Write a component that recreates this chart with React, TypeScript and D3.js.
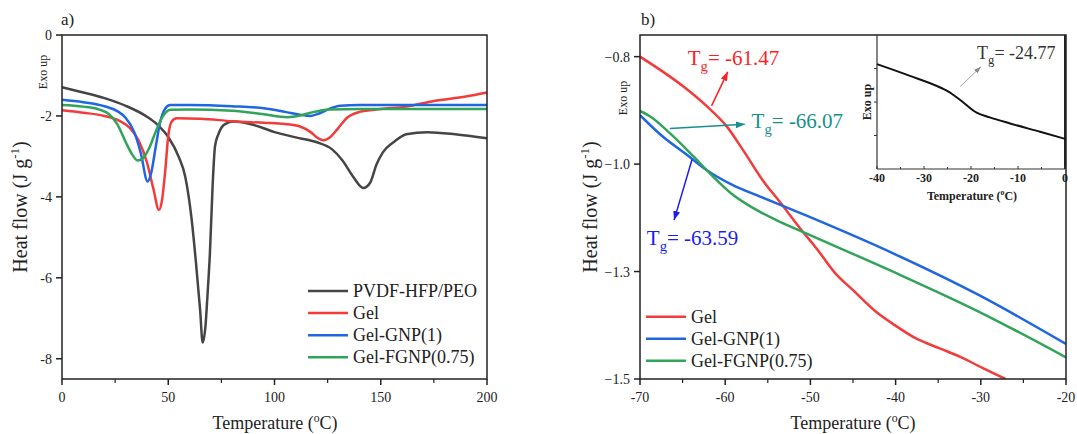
import * as React from 'react';
import * as d3 from 'd3';

// panel a: temperature (°C) vs heat flow (J/g)
const pvdfA: [number, number][] = [
  [0, -1.29], [10, -1.42], [20, -1.56], [30, -1.75], [40, -2.02], [45, -2.22], [50, -2.52],
  [55, -3.02], [58, -3.5], [61, -4.55], [63, -5.6], [65, -6.8], [66.2, -7.6], [67.5, -7.2],
  [68.5, -6.4], [69.6, -5.4], [70.9, -3.7], [72, -2.75], [73.6, -2.45], [76.7, -2.2], [81, -2.14],
  [90, -2.22], [100, -2.4], [110, -2.53], [120, -2.65], [127, -2.82], [132, -3.1], [137, -3.5],
  [141.8, -3.78], [145, -3.65], [148, -3.2], [151, -2.9], [156, -2.65], [162, -2.45], [172, -2.4],
  [185, -2.45], [200, -2.55],
];
const gelA: [number, number][] = [
  [0, -1.86], [10, -1.92], [20, -2.0], [27, -2.12], [32, -2.3], [36, -2.6], [40, -3.15], [43, -3.8],
  [45.6, -4.32], [47, -4.1], [48.5, -3.4], [50, -2.5], [51.5, -2.15], [54, -2.06], [65, -2.07],
  [80, -2.13], [95, -2.17], [105, -2.2], [112, -2.26], [117, -2.4], [120.5, -2.55], [123, -2.6],
  [126, -2.53], [130, -2.3], [134, -2.05], [140, -1.9], [150, -1.83], [162, -1.77], [175, -1.63],
  [190, -1.52], [200, -1.42],
];
const gnpA: [number, number][] = [
  [0, -1.6], [10, -1.66], [20, -1.76], [26, -1.88], [30, -2.05], [34, -2.4], [37, -2.9], [40.3, -3.62],
  [42, -3.4], [44, -2.8], [46, -2.2], [48.5, -1.82], [51, -1.73], [60, -1.73], [80, -1.76], [95, -1.81],
  [105, -1.9], [112, -1.97], [117, -2.0], [121, -1.94], [126, -1.82], [131, -1.75], [140, -1.73],
  [200, -1.73],
];
const fgnpA: [number, number][] = [
  [0, -1.73], [10, -1.77], [18, -1.85], [22, -1.95], [26, -2.2], [30, -2.65], [33, -2.95], [35.5, -3.1],
  [38, -3.05], [41, -2.8], [44, -2.4], [47, -2.05], [51, -1.85], [60, -1.84], [80, -1.87], [95, -1.96],
  [106, -2.03], [112, -1.99], [117, -1.92], [126, -1.84], [140, -1.83], [200, -1.83],
];

// panel b: glass transition region
const gelB: [number, number][] = [
  [-70, -0.8], [-64.9, -0.865], [-62.2, -0.907], [-59.8, -0.952], [-57.9, -1.003], [-55.5, -1.071],
  [-53.6, -1.115], [-51.2, -1.173], [-49.3, -1.216], [-47.1, -1.27], [-45, -1.307], [-42.3, -1.354],
  [-40.1, -1.383], [-37.6, -1.412], [-34.9, -1.433], [-32.4, -1.452], [-29.7, -1.477], [-27.1, -1.5],
];
const gnpB: [number, number][] = [
  [-70, -0.927], [-67.3, -0.974], [-64.5, -1.013], [-62.2, -1.046], [-59.1, -1.079], [-55.9, -1.104],
  [-50.1, -1.148], [-40.3, -1.227], [-30.2, -1.318], [-20, -1.424],
];
const fgnpB: [number, number][] = [
  [-70, -0.918], [-68.8, -0.93], [-66.5, -0.966], [-63.7, -1.017], [-61.4, -1.061], [-59.1, -1.1],
  [-56.7, -1.129], [-54, -1.155], [-50.1, -1.187], [-40.3, -1.267], [-30.2, -1.354], [-20, -1.453],
];

// inset: PVDF-HFP/PEO (arbitrary units)
const pvdfInset: [number, number][] = [
  [-40, 3.13], [-33, 2.78], [-26.2, 2.41], [-24.8, 2.31], [-22.3, 2.06], [-18.8, 1.68], [-16, 1.54],
  [-11.7, 1.36], [-5.3, 1.11], [0, 0.9],
];

const xTicksA = [0, 50, 100, 150, 200];
const yTicksA = [0, -2, -4, -6, -8];
const xTicksB = [-70, -60, -50, -40, -30, -20];
const yTicksB = [-0.8, -0.8 - 0.7 / 3, -0.8 - 1.4 / 3, -1.5];
const xTicksInset = [-40, -30, -20, -10, 0];

const legendA = ['PVDF-HFP/PEO', 'Gel', 'Gel-GNP(1)', 'Gel-FGNP(0.75)'];
const legendB = ['Gel', 'Gel-GNP(1)', 'Gel-FGNP(0.75)'];

const C = { dark: '#454545', red: '#f23b3b', blue: '#1f66e0', green: '#31a45a' };
const FONT = "'Liberation Serif', 'Times New Roman', serif";

const xA = d3.scaleLinear().domain([0, 200]).range([62, 487]);
const yA = d3.scaleLinear().domain([-8.5, 0]).range([379, 35]);
const xB = d3.scaleLinear().domain([-70, -20]).range([640, 1066]);
const yB = d3.scaleLinear().domain([-1.5, -0.753]).range([379, 35]);
const xI = d3.scaleLinear().domain([-40, 0]).range([877, 1065]);
const yI = d3.scaleLinear().domain([0, 4]).range([169, 35]);

const Frame = ({ x, y, xTicks, yTicks, fmt, minor }) => {
  const [x0, x1] = x.range();
  const [y0, y1] = y.range();
  const step = xTicks[1] - xTicks[0];
  return (
    <g fontFamily={FONT} fill='#222'>
      <rect x={x0} y={y1} width={x1 - x0} height={y0 - y1} fill='none' stroke='#222' strokeWidth={1.5} />
      {xTicks.map((t) => (
        <g key={'x' + t}>
          <line x1={x(t)} x2={x(t)} y1={y0} y2={y0 + 6} stroke='#222' strokeWidth={1.5} />
          <text x={x(t)} y={y0 + 23} textAnchor='middle' fontSize={14}>{t}</text>
        </g>
      ))}
      {minor &&
        xTicks.slice(0, -1).map((t) => (
          <line key={'m' + t} x1={x(t + step / 2)} x2={x(t + step / 2)} y1={y0} y2={y0 + 4} stroke='#222' strokeWidth={1.2} />
        ))}
      {yTicks.map((t) => (
        <g key={'y' + t}>
          <line x1={x0 - 6} x2={x0} y1={y(t)} y2={y(t)} stroke='#222' strokeWidth={1.5} />
          <text x={x0 - 10} y={y(t) + 5} textAnchor='end' fontSize={14}>{fmt(t)}</text>
        </g>
      ))}
    </g>
  );
};

const Tg = ({ x, y, value, color, size }) => (
  <text x={x} y={y} fill={color} fontFamily={FONT} fontSize={size}>
    <tspan>T</tspan>
    <tspan fontSize={size * 0.7} dy={size * 0.28}>g</tspan>
    <tspan dy={-size * 0.28}>= {value}</tspan>
  </text>
);

const Arrow = ({ from, to, color, width, id }) => (
  <line x1={from[0]} y1={from[1]} x2={to[0]} y2={to[1]} stroke={color} strokeWidth={width} markerEnd={`url(#${id})`} />
);

const Legend = ({ labels, colors, x, y, gap }) => (
  <g fontFamily={FONT} fontSize={18} fill='#222'>
    {labels.map((l, i) => (
      <g key={l}>
        <line x1={x} x2={x + 40} y1={y + i * gap} y2={y + i * gap} stroke={colors[i]} strokeWidth={2.5} />
        <text x={x + 45} y={y + i * gap + 6}>{l}</text>
      </g>
    ))}
  </g>
);

const YTitle = ({ x, y }) => (
  <text transform={`translate(${x},${y}) rotate(-90)`} textAnchor='middle' fontFamily={FONT} fontSize={20} fill='#222'>
    Heat flow (J g<tspan fontSize={13} dy={-8}>-1</tspan><tspan dy={8}>)</tspan>
  </text>
);

const XTitle = ({ x, y, size, bold }) => (
  <text x={x} y={y} textAnchor='middle' fontFamily={FONT} fontSize={size} fontWeight={bold ? 'bold' : 'normal'} fill='#222'>
    Temperature (<tspan fontSize={size * 0.65} dy={-size * 0.4}>o</tspan><tspan dy={size * 0.4}>C)</tspan>
  </text>
);

export default function App() {
  const lineA = d3.line<[number, number]>().x((d) => xA(d[0])).y((d) => yA(d[1])).curve(d3.curveMonotoneX);
  const lineB = d3.line<[number, number]>().x((d) => xB(d[0])).y((d) => yB(d[1])).curve(d3.curveMonotoneX);
  const lineI = d3.line<[number, number]>().x((d) => xI(d[0])).y((d) => yI(d[1])).curve(d3.curveMonotoneX);
  const f1 = d3.format('.1f');
  const seriesA = [
    [pvdfA, C.dark],
    [gelA, C.red],
    [gnpA, C.blue],
    [fgnpA, C.green],
  ];
  const seriesB = [
    [gelB, C.red],
    [gnpB, C.blue],
    [fgnpB, C.green],
  ];
  const markers = [
    ['arR', '#ff1f1f', 9, 7],
    ['arT', '#16908c', 9, 7],
    ['arB', '#1c1cf0', 9, 7],
    ['arG', '#888', 7, 5],
  ];

  return (
    <svg width={1077} height={434} style={{ position: 'absolute', left: 0, top: 0, background: '#fff' }}>
      <defs>
        {markers.map(([id, c, l, w]) => (
          <marker key={id} id={id} markerUnits='userSpaceOnUse' markerWidth={l} markerHeight={w}
            refX={l} refY={w / 2} orient='auto'>
            <path d={`M0,0L${l},${w / 2}L0,${w}Z`} fill={c} />
          </marker>
        ))}
        <clipPath id='clipB'>
          <rect x={640} y={35} width={426} height={344} />
        </clipPath>
      </defs>

      {/* panel a */}
      <text x={61} y={25} fontFamily={FONT} fontSize={17} fill='#222'>a)</text>
      {seriesA.map(([d, c], i) => (
        <path key={i} d={lineA(d)} fill='none' stroke={c} strokeWidth={2.5} />
      ))}
      <Frame x={xA} y={yA} xTicks={xTicksA} yTicks={yTicksA} fmt={(t) => String(t)} minor />
      <text transform='translate(47,72) rotate(-90)' textAnchor='middle' fontFamily={FONT} fontSize={12} fill='#222'>Exo up</text>
      <YTitle x={27} y={207} />
      <XTitle x={275} y={429} size={18} />
      <Legend labels={legendA} colors={[C.dark, C.red, C.blue, C.green]} x={308} y={291} gap={22.1} />

      {/* panel b */}
      <text x={641} y={25} fontFamily={FONT} fontSize={17} fill='#222'>b)</text>
      <g clipPath='url(#clipB)'>
        {seriesB.map(([d, c], i) => (
          <path key={i} d={lineB(d)} fill='none' stroke={c} strokeWidth={2.5} />
        ))}
      </g>
      <Frame x={xB} y={yB} xTicks={xTicksB} yTicks={yTicksB} fmt={f1} minor />
      <text transform='translate(627,98) rotate(-90)' textAnchor='middle' fontFamily={FONT} fontSize={12} fill='#222'>Exo up</text>
      <YTitle x={597} y={207} />
      <XTitle x={853} y={429} size={18} />
      <Legend labels={legendB} colors={[C.red, C.blue, C.green]} x={646} y={316.7} gap={22} />

      <Arrow id='arR' color='#ff1f1f' width={1.5} from={[xB(-61.6), yB(-0.907)]} to={[xB(-59.7), yB(-0.833)]} />
      <Tg x={xB(-64.4)} y={yB(-0.818)} value='-61.47' color='#ff1f1f' size={21} />
      <Arrow id='arT' color='#16908c' width={1.5} from={[xB(-66.5), yB(-0.956)]} to={[xB(-57.7), yB(-0.947)]} />
      <Tg x={xB(-56.9)} y={yB(-0.955)} value='-66.07' color='#16908c' size={21} />
      <Arrow id='arB' color='#1c1cf0' width={1.5} from={[xB(-63.9), yB(-1.024)]} to={[xB(-66.0), yB(-1.155)]} />
      <Tg x={xB(-69.2)} y={yB(-1.209)} value='-63.59' color='#1c1cf0' size={21} />

      {/* inset */}
      <g fontFamily={FONT} fill='#222'>
        <rect x={877} y={36} width={188} height={133} fill='#fff' />
        <line x1={877} x2={877} y1={35} y2={169} stroke='#333' strokeWidth={1.2} />
        <line x1={877} x2={1065} y1={169} y2={169} stroke='#333' strokeWidth={1.2} />
        <line x1={1065} x2={1065} y1={35} y2={169} stroke='#222' strokeWidth={2} />
        {xTicksInset.map((t) => (
          <g key={t}>
            <line x1={xI(t)} x2={xI(t)} y1={169} y2={166} stroke='#333' />
            <text x={xI(t)} y={182} textAnchor='middle' fontSize={12} fontWeight='bold'>{t}</text>
          </g>
        ))}
        {xTicksInset.slice(0, -1).map((t) => (
          <line key={'m' + t} x1={xI(t + 5)} x2={xI(t + 5)} y1={169} y2={167} stroke='#333' />
        ))}
        {[1, 2, 3].map((t) => (
          <line key={'y' + t} x1={874} x2={877} y1={yI(t)} y2={yI(t)} stroke='#333' />
        ))}
        <path d={lineI(pvdfInset)} fill='none' stroke='#111' strokeWidth={2} />
        <text transform='translate(871,102) rotate(-90)' textAnchor='middle' fontSize={12} fontWeight='bold'>Exo up</text>
        <XTitle x={972} y={200} size={12} bold />
        <Arrow id='arG' color='#999' width={0.9} from={[xI(-22.3), yI(2.46)]} to={[xI(-17.9), yI(3.05)]} />
        <Tg x={xI(-18.7)} y={yI(3.27)} value='-24.77' color='#333' size={18} />
      </g>
    </svg>
  );
}
